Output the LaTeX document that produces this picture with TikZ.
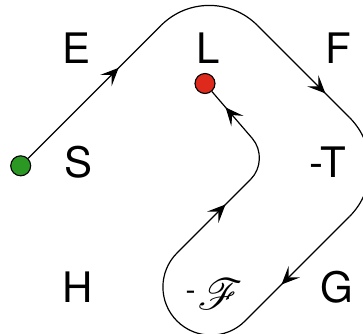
\documentclass[tikz,border=0pt]{standalone}
\usepackage{fontspec}
\setmainfont{TeX Gyre Heros}
\usepackage{mathrsfs}
\usepackage{graphicx}
\usetikzlibrary{arrows.meta,decorations.markings,calc}
\definecolor{dotgreen}{RGB}{44,152,36}
\definecolor{dotred}{RGB}{222,42,28}
\tikzset{
  pathline/.style={line width=1.2pt},
  dot/.style={circle, draw, line width=1.1pt, minimum size=20pt, inner sep=0pt},
  lbl/.style={inner sep=0pt, font=\fontsize{42}{48}\selectfont},
  arrowat/.style={postaction={decorate}, decoration={markings, mark=at position #1 with {\arrow{Stealth[length=18pt,width=16pt,inset=8pt]}}}}
}
\begin{document}
\begin{tikzpicture}[x=1pt,y=1pt]
\clip (0,0) rectangle (363,-333);
% dots
\node[dot, fill=dotgreen] (S) at (20.7,-165.8) {};
\node[dot, fill=dotred] (L) at (205,-83.5) {};
% path geometry
\coordinate (T1) at (209.25,22.75);
\coordinate (A1) at (161.2,-25.3);
\coordinate (B1) at (257.3,-25.3);
\coordinate (T2) at (399,-167);
\coordinate (A2) at (349.5,-117.5);
\coordinate (B2) at (349.5,-216.5);
\coordinate (C3) at (211,-355);
\coordinate (A3) at (244.9,-321.1);
\coordinate (M3) at (177,-321);
\coordinate (C4) at (143,-287);
\coordinate (B4) at (177,-253);
\coordinate (T5) at (270.5,-159.5);
\coordinate (A5) at (250.7,-179.3);
\coordinate (B5) at (252.2,-138.3);
% connector S -> L
\draw[pathline, arrowat=0.68] (S) -- (A1);
\draw[pathline] (A1) .. controls ($(A1)!0.552!(T1)$) and ($(B1)!0.552!(T1)$) .. (B1);
\draw[pathline, arrowat=0.74] (B1) -- (A2);
\draw[pathline] (A2) .. controls ($(A2)!0.552!(T2)$) and ($(B2)!0.552!(T2)$) .. (B2);
\draw[pathline, arrowat=0.65] (B2) -- (A3);
\draw[pathline] (A3) .. controls ($(A3)!0.552!(C3)$) and ($(M3)!0.552!(C3)$) .. (M3)
                     .. controls ($(M3)!0.552!(C4)$) and ($(B4)!0.552!(C4)$) .. (B4);
\draw[pathline, arrowat=0.66] (B4) -- (A5);
\draw[pathline] (A5) .. controls ($(A5)!0.552!(T5)$) and ($(B5)!0.552!(T5)$) .. (B5);
\draw[pathline, arrowat=0.66] (B5) -- (L);
% labels
\node[lbl] (lE) at (76.3,-48.3) {E};
\node[lbl] (lL) at (208,-48.3) {L};
\node[lbl] (lF) at (338,-48.3) {F};
\node[lbl] (lS) at (78.3,-162.5) {S};
\node[lbl] (lT) at (327.5,-162.5) {-T};
\node[lbl] (lH) at (77.8,-286.7) {H};
\node[lbl] (lG) at (337,-287) {G};
\node[inner sep=0pt, anchor=base west] (lFF) at (185.5,-309)
  {{\fontsize{30}{34}\selectfont\raisebox{9pt}{-}}\hspace{2pt}{\fontsize{24.88}{30}\selectfont\scalebox{1.75}{$\mathscr{F}$}}};
\end{tikzpicture}
\end{document}
